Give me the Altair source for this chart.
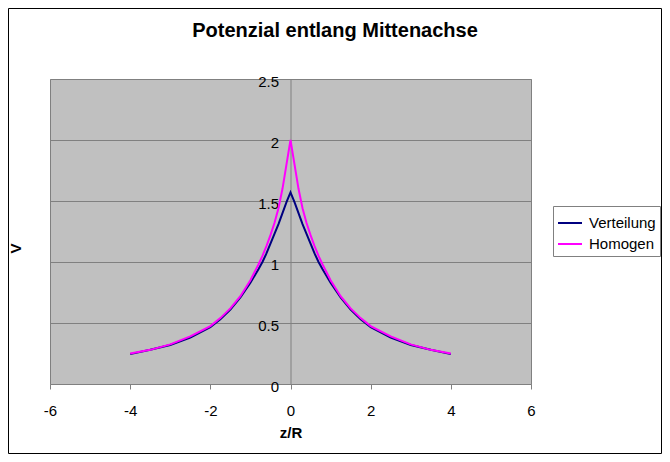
import altair as alt
import pandas as pd

# z/R positions and values
z = [-4, -3.5, -3, -2.5, -2, -1.75, -1.5, -1.25, -1, -0.8, -0.7, -0.6, -0.5, -0.4, -0.3, -0.2, -0.1,
     0,
     0.1, 0.2, 0.3, 0.4, 0.5, 0.6, 0.7, 0.8, 1, 1.25, 1.5, 1.75, 2, 2.5, 3, 3.5, 4]
verteilung = [0.245, 0.28, 0.32, 0.38, 0.465, 0.53, 0.61, 0.71, 0.83, 0.94, 1.00, 1.07, 1.15, 1.23, 1.31, 1.40, 1.49,
              1.57,
              1.49, 1.40, 1.31, 1.23, 1.15, 1.07, 1.00, 0.94, 0.83, 0.71, 0.61, 0.53, 0.465, 0.38, 0.32, 0.28, 0.245]
homogen = [0.25, 0.28, 0.325, 0.39, 0.475, 0.54, 0.62, 0.72, 0.85, 0.98, 1.05, 1.13, 1.22, 1.32, 1.44, 1.60, 1.80,
           2.0,
           1.80, 1.60, 1.44, 1.32, 1.22, 1.13, 1.05, 0.98, 0.85, 0.72, 0.62, 0.54, 0.475, 0.39, 0.325, 0.28, 0.25]
series = ["Verteilung", "Homogen"]
colors = ["#000080", "#FF00FF"]
x_ticks = [-6, -4, -2, 0, 2, 4, 6]
y_ticks = [0, 0.5, 1, 1.5, 2, 2.5]
title_text = "Potenzial entlang Mittenachse"

rows = []
for name, vals in zip(series, [verteilung, homogen]):
    for zi, v in zip(z, vals):
        rows.append({"z": zi, "V": v, "Serie": name})
df = pd.DataFrame(rows)

FONT = "Liberation Sans"
W, H = 481, 305

lines = alt.Chart(df).mark_line(strokeWidth=2).encode(
    x=alt.X("z:Q", scale=alt.Scale(domain=[-6, 6], nice=False, zero=False),
            axis=alt.Axis(values=x_ticks, title="z/R", grid=False, domain=False,
                          ticks=True, tickColor="#808080", tickSize=5,
                          labelFontSize=15, labelFont=FONT, labelColor="black",
                          labelPadding=14, labelFlush=False, labelOverlap=False,
                          labelExpr="toString(datum.value)",
                          titleFontSize=15, titleFont=FONT, titleFontWeight="bold",
                          titleColor="black", titleY=53, titleBaseline="alphabetic")),
    y=alt.Y("V:Q", scale=alt.Scale(domain=[0, 2.5], nice=False),
            axis=alt.Axis(values=y_ticks, offset=-240.5, ticks=False, tickSize=0,
                          domain=True, domainColor="#808080", domainWidth=1,
                          grid=True, gridColor="#808080", gridWidth=1,
                          labelPadding=12, labelFontSize=15, labelFont=FONT, labelColor="black",
                          labelBaseline="middle", labelOffset=2,
                          labelFlush=False, labelOverlap=False,
                          labelExpr="toString(datum.value)",
                          title="V", titleX=-275.5, titleY=169, titleAngle=270,
                          titleBaseline="middle", titleAlign="center",
                          titleFontSize=15, titleFont=FONT, titleFontWeight="bold",
                          titleColor="black", zindex=0)),
    color=alt.Color("Serie:N", sort=series,
                    scale=alt.Scale(domain=series, range=colors),
                    legend=alt.Legend(title=None, orient="none", legendX=503, legendY=127,
                                      direction="vertical", fillColor="white",
                                      strokeColor="#808080", padding=4,
                                      symbolType="stroke", symbolSize=576,
                                      symbolStrokeWidth=2, labelFontSize=15,
                                      labelFont=FONT, labelColor="black",
                                      rowPadding=0, labelOffset=6)),
)

title = alt.Chart(pd.DataFrame({"t": [title_text]})).mark_text(
    font=FONT, fontSize=20, fontWeight="bold", color="black",
    align="center", baseline="alphabetic"
).encode(text="t:N", x=alt.value(285), y=alt.value(-42))

frame = alt.Chart(pd.DataFrame({"a": [0]})).mark_rect(
    fillOpacity=0, stroke="black", strokeWidth=1
).encode(x=alt.value(-41.5), x2=alt.value(611.5), y=alt.value(-70.5), y2=alt.value(374.5))

chart = alt.layer(lines, title, frame).properties(
    width=W, height=H,
    autosize=alt.AutoSizeParams(type="none"),
    padding={"left": 42, "top": 71, "right": 131, "bottom": 70},
    background="white",
).configure_view(
    fill="#C0C0C0", stroke="#808080", strokeWidth=1
)

chart.save("out.html", embed_options={"renderer": "svg", "actions": False})
